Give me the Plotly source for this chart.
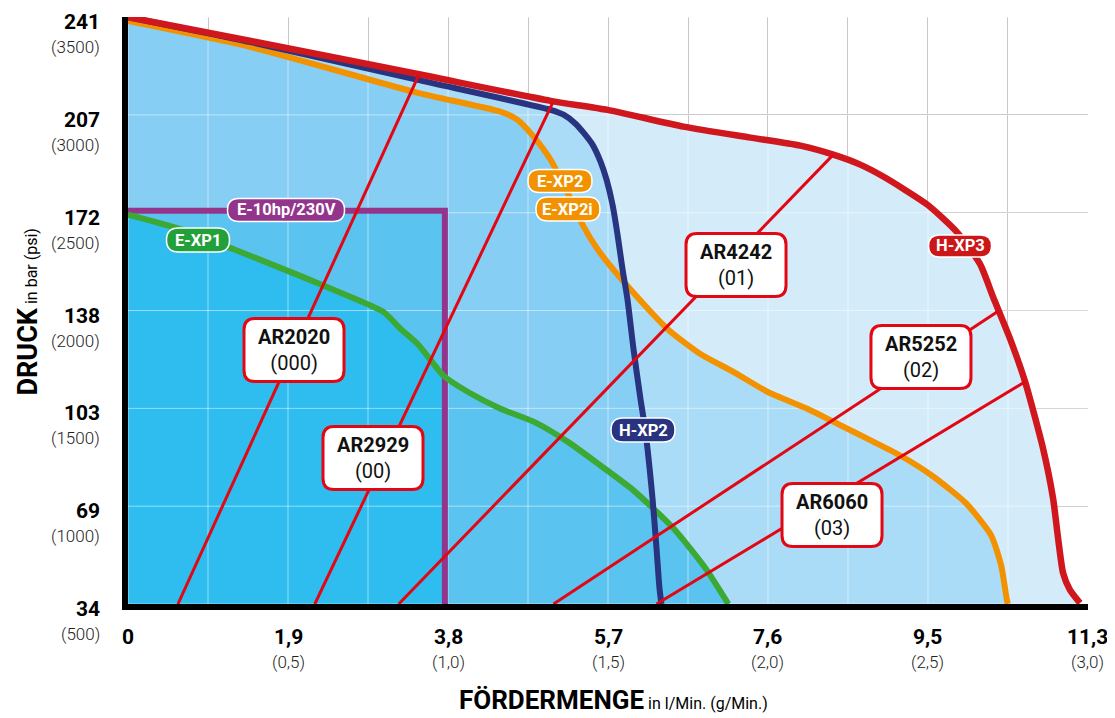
import numpy as np
import plotly.graph_objects as go

# ---------------- data (x: l/Min., y: psi) ----------------
hxp3_x = [0, 1.446, 3.410, 4.974, 5.644, 6.538, 7.326, 7.914, 8.302, 8.619, 8.890, 9.407,
          9.760, 10.030, 10.183, 10.383, 10.560, 10.771, 10.889, 10.948, 11.007, 11.089, 11.206]
hxp3_y = [3500, 3378, 3209, 3072, 3026, 2940, 2884, 2843, 2797, 2746, 2685, 2542,
          2400, 2237, 2069, 1855, 1636, 1295, 1040, 836, 658, 571, 505]

hxp2_x = [0, 1.446, 3.410, 4.974, 5.127, 5.268, 5.362, 5.468, 5.562, 5.633, 5.703, 5.762,
          5.821, 5.879, 5.950, 6.032, 6.091, 6.174, 6.221, 6.256, 6.279]
hxp2_y = [3500, 3372, 3179, 3026, 3001, 2955, 2909, 2848, 2761, 2669, 2542, 2389,
          2211, 2058, 1804, 1549, 1381, 1040, 785, 581, 500]

exp2_x = [0, 1.446, 3.410, 4.386, 4.586, 4.774, 4.974, 5.174, 5.362, 5.527, 5.879, 6.350,
          6.738, 7.126, 7.526, 7.996, 8.302, 8.702, 9.090, 9.478, 9.866, 10.160, 10.277, 10.348, 10.360]
exp2_y = [3480, 3347, 3113, 3016, 2975, 2889, 2771, 2603, 2430, 2313, 2125, 1906,
          1778, 1687, 1585, 1498, 1432, 1345, 1259, 1152, 1014, 851, 699, 515, 500]

exp1_x = [0, 0.623, 1.246, 2.034, 2.622, 3.010, 3.210, 3.410, 3.716, 3.998, 4.386, 4.774,
          5.174, 5.562, 5.950, 6.420, 6.797, 7.067]
exp1_y = [2490, 2415, 2313, 2176, 2069, 1992, 1906, 1829, 1666, 1585, 1498, 1432,
          1330, 1208, 1081, 887, 683, 500]

e10_x = [0, 3.73, 3.73]
e10_y = [2510, 2510, 500]

ar_names = ["AR2020", "AR2929", "AR4242", "AR5252", "AR6060"]
ar_codes = ["(000)", "(00)", "(01)", "(02)", "(03)"]
ar_x = [[0.588, 3.422], [2.199, 4.998], [3.187, 8.302], [5.009, 10.242], [6.221, 10.560]]
ar_y = [[500, 3204], [500, 3062], [500, 2797], [500, 1997], [500, 1636]]

bar_ticks = [34, 69, 103, 138, 172, 207, 241]
psi_ticks = [500, 1000, 1500, 2000, 2500, 3000, 3500]
lpm_labels = ["0", "1,9", "3,8", "5,7", "7,6", "9,5", "11,3"]
gpm_labels = ["", "(0,5)", "(1,0)", "(1,5)", "(2,0)", "(2,5)", "(3,0)"]
gpm_vals = [0, 0.5, 1.0, 1.5, 2.0, 2.5, 3.0]

# ---------------- styling ----------------
XMAX = 11.3
LPM_PER_GPM = XMAX / 3.0
FONT = "Roboto"
RED_CURVE = "#cf171d"
RED_AR = "#e30613"
NAVY = "#28347f"
ORANGE = "#f39200"
GREEN = "#3ca935"
PURPLE = "#93358b"

fig = go.Figure()
SM = 0.6


def fill_trace(x, y, color, shape="spline"):
    fig.add_trace(go.Scatter(x=x, y=y, mode="lines", fill="tozeroy", fillcolor=color,
                             line=dict(width=0, shape=shape, smoothing=SM),
                             hoverinfo="skip", showlegend=False))


# fills
fill_trace(hxp3_x, hxp3_y, "#d4ebf9")
fill_trace(hxp2_x, hxp2_y, "#abdcf7")
fill_trace(exp2_x, exp2_y, "#abdcf7")
env_x = np.union1d(exp2_x, hxp2_x)
env_x = env_x[env_x <= max(hxp2_x)]
env_y = np.minimum(np.interp(env_x, exp2_x, exp2_y), np.interp(env_x, hxp2_x, hxp2_y))
fill_trace(env_x, env_y, "#87cef5", shape="linear")
fill_trace(exp1_x, exp1_y, "#5bc3ef")
fill_trace(e10_x, e10_y, "#5bc3ef", shape="linear")
gb = [(a, b) for a, b in zip(exp1_x, exp1_y) if a <= e10_x[1]]
fill_trace([p[0] for p in gb], [p[1] for p in gb], "#2ebdee")

# light grid over the fills
gx = list(np.arange(0, 13) * XMAX / 12)
gy = psi_ticks
vx, vy = [], []
for v in gx:
    vx += [v, v, None]
    vy += [500, 3500, None]
for v in gy:
    vx += [0, XMAX, None]
    vy += [v, v, None]
fig.add_trace(go.Scatter(x=vx, y=vy, mode="lines", line=dict(color="rgba(255,255,255,0.5)", width=1),
                         hoverinfo="skip", showlegend=False))


def line_trace(x, y, color, width, shape="spline"):
    fig.add_trace(go.Scatter(x=x, y=y, mode="lines",
                             line=dict(color=color, width=width, shape=shape, smoothing=SM),
                             hoverinfo="skip", showlegend=False))


line_trace(e10_x, e10_y, PURPLE, 6, shape="linear")
line_trace(exp1_x, exp1_y, GREEN, 6)
line_trace(exp2_x, exp2_y, ORANGE, 6)
line_trace(hxp2_x, hxp2_y, NAVY, 6)
line_trace(hxp3_x, hxp3_y, RED_CURVE, 6.5)
for xs, ys in zip(ar_x, ar_y):
    line_trace(xs, ys, RED_AR, 3, shape="linear")


def rrect(w, h, r):
    a, b = w / 2, h / 2
    return (f"M {-a + r},{-b} L {a - r},{-b} Q {a},{-b} {a},{-b + r} L {a},{b - r} "
            f"Q {a},{b} {a - r},{b} L {-a + r},{b} Q {-a},{b} {-a},{b - r} "
            f"L {-a},{-b + r} Q {-a},{-b} {-a + r},{-b} Z")


shapes = []
annotations = []

# AR label boxes (positions in data units)
ar_pos = [(1.954, 1798), (2.884, 1246), (7.157, 2233), (9.334, 1762), (8.287, 955)]
for name, code, (cx, cy) in zip(ar_names, ar_codes, ar_pos):
    shapes.append(dict(type="path", xref="x", yref="y", xsizemode="pixel", ysizemode="pixel",
                       xanchor=cx, yanchor=cy, path=rrect(100, 63, 11), fillcolor="white",
                       line=dict(color=RED_AR, width=3), layer="above"))
    annotations.append(dict(x=cx, y=cy, xref="x", yref="y", showarrow=False,
                            xanchor="center", yanchor="middle",
                            text=f"<b>{name}</b><br>{code}",
                            font=dict(family=FONT, size=20, color="#111")))

# curve name pills
pills = [
    ("E-10hp/230V", 1.860, 2514, 117, 23, PURPLE),
    ("E-XP1", 0.824, 2360, 63, 24, "#22a03a"),
    ("E-XP2", 5.085, 2662, 64, 23, ORANGE),
    ("E-XP2i", 5.179, 2519, 64, 24, ORANGE),
    ("H-XP2", 6.062, 1389, 64, 24, NAVY),
    ("H-XP3", 9.794, 2330, 63, 22, "#cc1719"),
]
for txt, cx, cy, w, h, col in pills:
    shapes.append(dict(type="path", xref="x", yref="y", xsizemode="pixel", ysizemode="pixel",
                       xanchor=cx, yanchor=cy, path=rrect(w, h, h / 2), fillcolor=col,
                       line=dict(color="white", width=1.5), layer="above"))
    annotations.append(dict(x=cx, y=cy, xref="x", yref="y", showarrow=False,
                            xanchor="center", yanchor="middle",
                            text=f"<b>{txt}</b>", font=dict(family=FONT, size=16.5, color="white")))

# y tick labels
for b, p in zip(bar_ticks, psi_ticks):
    annotations.append(dict(x=0, xref="paper", xshift=-26, xanchor="right", y=p, yref="y",
                            yanchor="middle", yshift=-5, showarrow=False, text=f"<b>{b}</b>",
                            font=dict(family=FONT, size=21, color="black")))
    annotations.append(dict(x=0, xref="paper", xshift=-26, xanchor="right", y=p, yref="y",
                            yanchor="middle", yshift=-30, showarrow=False, text=f"({p})",
                            font=dict(family=FONT, size=17, color="#222", weight=300)))

# x tick labels
for lab, glab, g in zip(lpm_labels, gpm_labels, gpm_vals):
    annotations.append(dict(x=g * LPM_PER_GPM, xref="x", y=0, yref="paper", yshift=-33,
                            xanchor="center", yanchor="middle",
                            showarrow=False, text=f"<b>{lab}</b>",
                            font=dict(family=FONT, size=21, color="black")))
    if glab:
        annotations.append(dict(x=g * LPM_PER_GPM, xref="x", y=0, yref="paper", yshift=-58,
                                xanchor="center", yanchor="middle",
                                showarrow=False, text=glab,
                                font=dict(family=FONT, size=17, color="#222", weight=300)))

# axis titles
annotations.append(dict(x=0, xref="paper", xshift=-101, y=0.5, yref="paper", yshift=-2,
                        xanchor="center", yanchor="middle",
                        textangle=-90, showarrow=False,
                        text="<b>DRUCK</b><span style='font-size:16px'> in bar (psi)</span>",
                        font=dict(family=FONT, size=27, color="black")))
annotations.append(dict(x=0.5, xref="paper", xshift=5, y=0, yref="paper", yshift=-96,
                        xanchor="center", yanchor="middle",
                        showarrow=False,
                        text="<b>FÖRDERMENGE</b><span style='font-size:16px'> in l/Min. (g/Min.)</span>",
                        font=dict(family=FONT, size=26, color="black")))

# the page body adds an 8px offset, so the figure is 8px smaller and margins shifted
fig.update_layout(
    width=1107, height=710,
    margin=dict(l=120, r=27, t=9, b=114),
    paper_bgcolor="white", plot_bgcolor="white",
    showlegend=False,
    shapes=shapes, annotations=annotations,
    xaxis=dict(range=[0, XMAX + 1e-4], tick0=0, dtick=XMAX / 12, showgrid=True,
               gridcolor="#b5b5b5", gridwidth=1, showticklabels=False, ticks="",
               zeroline=False, showline=True, linecolor="black", linewidth=6, fixedrange=True),
    yaxis=dict(range=[500, 3500.5], tick0=500, dtick=500, showgrid=True,
               gridcolor="#b5b5b5", gridwidth=1, showticklabels=False, ticks="",
               zeroline=False, showline=True, linecolor="black", linewidth=6, fixedrange=True),
)

fig.write_html("out.html")
